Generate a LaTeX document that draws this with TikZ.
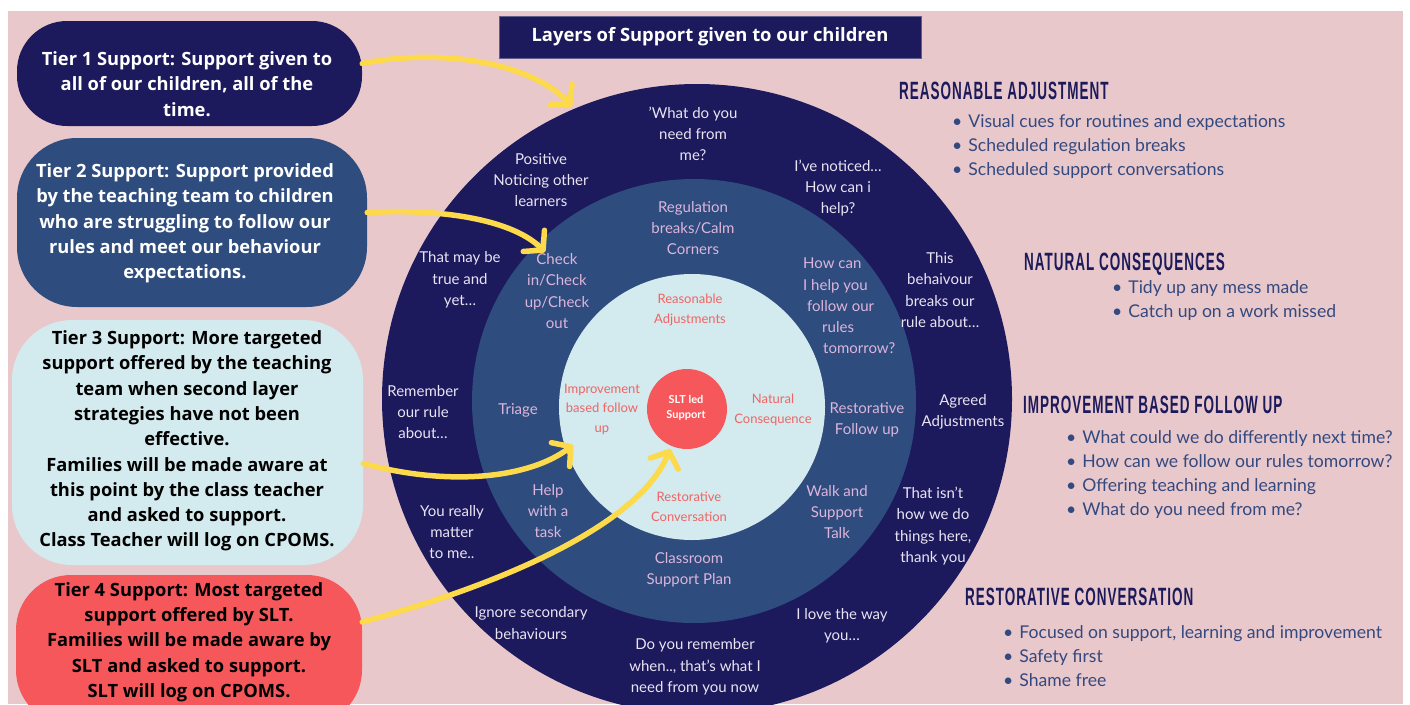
\documentclass[tikz,border=0pt]{standalone}
\usepackage{fontspec}
\setmainfont{Lato}
\newfontfamily\tierfont{Open Sans}
\newfontfamily\headfont[FakeStretch=0.54,LetterSpace=4]{Liberation Sans}
\usetikzlibrary{arrows.meta}
\definecolor{pinkbg}{HTML}{E8C8CB}
\definecolor{navy}{HTML}{1C195C}
\definecolor{steel}{HTML}{2E4C7E}
\definecolor{lightc}{HTML}{D3EAEE}
\definecolor{redc}{HTML}{F5575A}
\definecolor{yel}{HTML}{FDD94C}
\definecolor{otxt}{HTML}{E9E4F2}
\definecolor{mtxt}{HTML}{DDB5DA}
\definecolor{itxt}{HTML}{F06464}
\definecolor{bultxt}{HTML}{34497F}
\definecolor{headc}{HTML}{1C1A5A}
\begin{document}
\begin{tikzpicture}[x=1pt,y=-1pt,
  ringo/.style={text=otxt, align=center, inner sep=0pt, font=\fontsize{15}{21.3}\selectfont},
  ringm/.style={text=mtxt, align=center, inner sep=0pt, font=\fontsize{15}{21.3}\selectfont},
  ringi/.style={text=itxt, align=center, inner sep=0pt, font=\fontsize{13}{19.5}\selectfont},
  tierbox/.style={rectangle, draw=none, inner sep=0pt},
  tiertext/.style={align=center, inner sep=0pt, font=\tierfont\bfseries\fontsize{18.3}{25.3}\selectfont},
  headtxt/.style={text=headc, anchor=west, inner sep=0pt, font=\headfont\bfseries\fontsize{25}{25}\selectfont},
  bullist/.style={text=bultxt, anchor=west, align=left, inner sep=0pt, font=\fontsize{17.6}{24}\selectfont},
  yarrow/.style={draw=yel, line width=5.5pt, line cap=round, -{Straight Barb[length=13pt,width=30pt,round]}}
]
\useasboundingbox (0,0) rectangle (1410,704);
\fill[white] (0,0) rectangle (1410,704);
\begin{scope}
\clip (8,11) rectangle (1403,704);
\fill[pinkbg] (8,11) rectangle (1403,704);
% rings
\fill[navy] (697,399) circle[radius=315pt];
\fill[steel] (694,401) circle[radius=222pt];
\fill[lightc] (692,407) circle[radius=133pt];
\fill[redc] (687,409) circle[radius=40pt];
% outer ring texts
\node[ringo] (o1) at (693,134) {'What do you\\need from\\me?};
\node[ringo] (o2) at (541,180) {Positive\\Noticing other\\learners};
\node[ringo] (o3) at (838,188) {I've noticed…\\How can i\\help?};
\node[ringo] (o4) at (460,280) {That may be\\true and\\yet…};
\node[ringo] (o5) at (940,290) {This\\behaivour\\breaks our\\rule about…};
\node[ringo] (o6) at (423,412) {Remember\\our rule\\about…};
\node[ringo] (o7) at (963,412) {Agreed\\Adjustments};
\node[ringo] (o8) at (452,532) {You really\\matter\\to me..};
\node[ringo] (o9) at (933,526) {That isn't\\how we do\\things here,\\thank you};
\node[ringo] (o10) at (531,623) {Ignore secondary\\behaviours};
\node[ringo] (o11) at (842,626) {I love the way\\you…};
\node[ringo] (o12) at (695,667) {Do you remember\\when.., that's what I\\need from you now};
% middle ring texts
\node[ringm] (m1) at (693,228) {Regulation\\breaks/Calm\\Corners};
\node[ringm] (m2) at (557,291) {Check\\in/Check\\up/Check\\out};
\node[ringm, align=left, anchor=west] (m3) at (803,306) {How can\\I help you\\\hspace{4pt}follow our\\\hspace{19pt}rules\\\hspace{20pt}tomorrow?};
\node[ringm] (m4) at (518,410) {Triage};
\node[ringm] (m5) at (867,420) {Restorative\\Follow up};
\node[ringm] (m6) at (548,511) {Help\\with a\\task};
\node[ringm] (m7) at (837,512) {Walk and\\Support\\Talk};
\node[ringm] (m8) at (689,570) {Classroom\\Support Plan};
% inner ring texts
\node[ringi] (i1) at (690,310) {Reasonable\\Adjustments};
\node[ringi] (i2) at (602,409) {Improvement\\based follow\\up};
\node[ringi] (i3) at (773,410) {Natural\\Consequence};
\node[ringi] (i4) at (689,507) {Restorative\\Conversation};
\node[text=white, align=center, inner sep=0pt, font=\bfseries\fontsize{11}{15}\selectfont] (slt) at (686,408) {SLT led\\Support};
% title
\node[fill=navy, draw=navy!70!white, line width=0.8pt, minimum width=422pt, minimum height=42pt, inner sep=0pt] (title) at (710,37) {};
\node[text=white, inner sep=0pt, font=\tierfont\bfseries\fontsize{18.4}{20}\selectfont] (titletxt) at (710,37) {Layers of Support given to our children};
% tier boxes
\node[tierbox, fill=navy, minimum width=345pt, minimum height=105pt, rounded corners=50pt] (t1box) at (189.5,73.5) {};
\node[tiertext, text=white] (t1txt) at (187,84) {Tier 1 Support: Support given to\\all of our children, all of the\\time.};
\node[tierbox, fill=steel, minimum width=350pt, minimum height=169pt, rounded corners=60pt] (t2box) at (192,222.5) {};
\node[tiertext, text=white] (t2txt) at (185,223.5) {Tier 2 Support: Support provided\\by the teaching team to children\\who are struggling to follow our\\rules and meet our behaviour\\expectations.};
\node[tierbox, fill=lightc, minimum width=351pt, minimum height=245pt, rounded corners=60pt] (t3box) at (187.5,442.5) {};
\node[tiertext, text=black] (t3txt) at (187,441) {Tier 3 Support: More targeted\\support offered by the teaching\\team when second layer\\strategies have not been\\effective.\\Families will be made aware at\\this point by the class teacher\\and asked to support.\\Class Teacher will log on CPOMS.};
\node[tierbox, fill=redc, minimum width=346pt, minimum height=150pt, rounded corners=55pt] (t4box) at (189,650) {};
\node[tiertext, text=black] (t4txt) at (189,642) {Tier 4 Support: Most targeted\\support offered by SLT.\\Families will be made aware by\\SLT and asked to support.\\SLT will log on CPOMS.};
% arrow end points
\coordinate (a1end) at (572,106);
\coordinate (a2end) at (545,252);
\coordinate (a3end) at (573,445);
\coordinate (a4end) at (670,449);
\draw[yarrow] ([yshift=10pt]t1box.east) .. controls (440,48) and (530,62) .. (a1end);
\draw[yarrow] ([yshift=10pt]t2box.east) .. controls (450,208) and (515,222) .. (a2end);
\draw[yarrow] ([yshift=-21pt]t3box.east) .. controls (450,487) and (530,478) .. (a3end);
\draw[yarrow] ([yshift=28pt]t4box.east) .. controls (500,585) and (640,525) .. (a4end);
% right-side headings and lists
\node[headtxt] (h1) at (899,91) {REASONABLE ADJUSTMENT};
\node[bullist] (l1) at (952,147) {•\hspace{6pt}Visual cues for routines and expectations\\•\hspace{6pt}Scheduled regulation breaks\\•\hspace{6pt}Scheduled support conversations};
\node[headtxt] (h2) at (1024,264) {NATURAL CONSEQUENCES};
\node[bullist] (l2) at (1112,301) {•\hspace{6pt}Tidy up any mess made\\•\hspace{6pt}Catch up on a work missed};
\node[headtxt] (h3) at (1023,405) {IMPROVEMENT BASED FOLLOW UP};
\node[bullist] (l3) at (1066,475) {•\hspace{6pt}What could we do differently next time?\\•\hspace{6pt}How can we follow our rules tomorrow?\\•\hspace{6pt}Offering teaching and learning\\•\hspace{6pt}What do you need from me?};
\node[headtxt] (h4) at (965,597) {RESTORATIVE CONVERSATION};
\node[bullist] (l4) at (1003,656) {•\hspace{6pt}Focused on support, learning and improvement\\•\hspace{6pt}Safety first\\•\hspace{6pt}Shame free};
\end{scope}
\end{tikzpicture}
\end{document}
